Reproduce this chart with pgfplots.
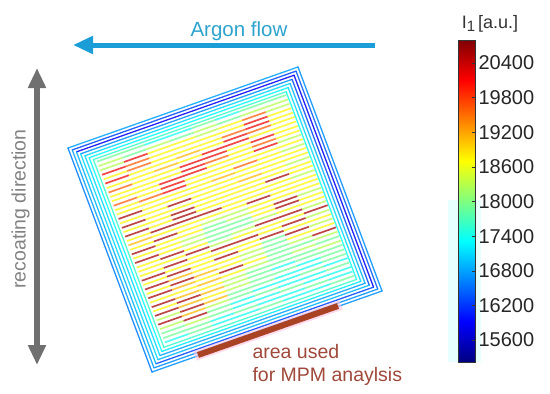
\documentclass[border=0pt]{standalone}
\usepackage{pgfplots}
\pgfplotsset{compat=1.18}
\usepackage{fontspec}
\setmainfont{Liberation Sans}
\usetikzlibrary{arrows.meta}
\definecolor{argon}{RGB}{27,157,216}
\definecolor{argontext}{RGB}{45,163,205}
\definecolor{recoat}{RGB}{112,112,112}
\definecolor{recoattext}{RGB}{130,130,130}
\definecolor{mpm}{RGB}{170,66,36}
\definecolor{mpmtext}{RGB}{160,72,58}
\definecolor{halo}{RGB}{255,195,225}
\definecolor{cyanhaze}{RGB}{232,255,255}

% one scan line: #1 = v position, #2..#9 = intensity of its 8 segments
\newcommand\scanline[9]{\addplot[mesh, shader=flat corner, point meta=explicit, line width=1.7pt, opacity=0.72] table[x expr={68+230*\thisrow{u}+84*#1}, y expr={148-81*\thisrow{u}+224*#1}, meta=c, row sep=\\] {u c\\0.092 #2\\0.195 #3\\0.298 #4\\0.401 #5\\0.504 #6\\0.606 #7\\0.709 #8\\0.812 #9\\0.915 #9\\};}
% one contour: #1 = offset, #2 = 1-offset, #3..#6 = top, right, bottom, left
\newcommand\contour[6]{\addplot[mesh, shader=flat corner, point meta=explicit, line width=1.3pt, line cap=round, opacity=0.85] table[x expr={68+230*\thisrow{u}+84*\thisrow{v}}, y expr={148-81*\thisrow{u}+224*\thisrow{v}}, meta=c, row sep=\\] {u v c\\#1 #1 #3\\#2 #1 #4\\#2 #2 #5\\#1 #2 #6\\#1 #1 #6\\};}

\begin{document}
\begin{tikzpicture}
\begin{axis}[name=main, at={(0,0)}, anchor=south west, scale only axis,
  width=550pt, height=394pt, xmin=0, xmax=550, ymin=0, ymax=394,
  y dir=reverse, hide axis, clip=false, colormap/jet,
  point meta min=15220, point meta max=20800]

\addplot[fill=cyanhaze, draw=none] coordinates {(448,200) (481,200) (481,362) (448,362)} --cycle;

\contour{0}{1}{16800}{16700}{16700}{16600}
\contour{0.0135}{0.9865}{16300}{16400}{16700}{16800}
\contour{0.027}{0.973}{15900}{15900}{16300}{16900}
\contour{0.0405}{0.9595}{16700}{16300}{16900}{17100}
\contour{0.054}{0.946}{17100}{16900}{16800}{17100}
\contour{0.0675}{0.9325}{17300}{17100}{17200}{17300}
\contour{0.081}{0.919}{17600}{17400}{17600}{17600}

\scanline{0.094}{17900}{17900}{17400}{17400}{17900}{17400}{17900}{17900}
\scanline{0.114}{18300}{17900}{18300}{17900}{18300}{17900}{18300}{18300}
\scanline{0.133}{18300}{20200}{18750}{18750}{18300}{18750}{19600}{18300}
\scanline{0.153}{20200}{19600}{18750}{18750}{18750}{18750}{20200}{18750}
\scanline{0.173}{18750}{19600}{18750}{18750}{18750}{19600}{20200}{18750}
\scanline{0.192}{20200}{18750}{18750}{19100}{18750}{20200}{19600}{18750}
\scanline{0.212}{18750}{18750}{19100}{18750}{20200}{20200}{18750}{18750}
\scanline{0.232}{19600}{18750}{18750}{20200}{20200}{18750}{20200}{18750}
\scanline{0.252}{18750}{18750}{18750}{20200}{19600}{18750}{19600}{18750}
\scanline{0.271}{18750}{18750}{20200}{20200}{18750}{18750}{20200}{18300}
\scanline{0.291}{19600}{18750}{20200}{18750}{18750}{18750}{18750}{18750}
\scanline{0.311}{18750}{19600}{20200}{18750}{18750}{19600}{18750}{18300}
\scanline{0.330}{18750}{18750}{18750}{18750}{19100}{18750}{18750}{18750}
\scanline{0.350}{20600}{18750}{18750}{18750}{18750}{18750}{18750}{18750}
\scanline{0.370}{18750}{18750}{20600}{18750}{18750}{19100}{18750}{18300}
\scanline{0.390}{20600}{18750}{18750}{18750}{18750}{18750}{18750}{18750}
\scanline{0.409}{18750}{18750}{20600}{18750}{18750}{18750}{20600}{18750}
\scanline{0.429}{20600}{18750}{20600}{18750}{18750}{18750}{18750}{18300}
\scanline{0.449}{18750}{20600}{20600}{20600}{18750}{18750}{18750}{18750}
\scanline{0.468}{19100}{18750}{18750}{18750}{18750}{20600}{18750}{18750}
\scanline{0.488}{18750}{20600}{18750}{18300}{18300}{18750}{18750}{18750}
\scanline{0.508}{20600}{18750}{18750}{17900}{18300}{18750}{20600}{18300}
\scanline{0.527}{18750}{18750}{18300}{17900}{17900}{18750}{20600}{18750}
\scanline{0.547}{20600}{18750}{18300}{17900}{17900}{18300}{18750}{18750}
\scanline{0.567}{18750}{20600}{18750}{17900}{18300}{20600}{20600}{18300}
\scanline{0.586}{18750}{18750}{20600}{18300}{18750}{18750}{18750}{20600}
\scanline{0.606}{18750}{20600}{18750}{20600}{20600}{18750}{20600}{18300}
\scanline{0.626}{20600}{18750}{18750}{18750}{18750}{20600}{18750}{18750}
\scanline{0.645}{18750}{20600}{18750}{20600}{18750}{17900}{20600}{18300}
\scanline{0.665}{20600}{19100}{18750}{18750}{18300}{17900}{18750}{18750}
\scanline{0.685}{18750}{20600}{19100}{18750}{18300}{17900}{18300}{20600}
\scanline{0.704}{20600}{19100}{18750}{20600}{18750}{17900}{17900}{18300}
\scanline{0.724}{18750}{18750}{19100}{18750}{18300}{17900}{18300}{17900}
\scanline{0.744}{20600}{19100}{18750}{18300}{17900}{17900}{17900}{18300}
\scanline{0.763}{18750}{20600}{19100}{18300}{17900}{17400}{17900}{17900}
\scanline{0.783}{20600}{19100}{18750}{18300}{17900}{17900}{17400}{17900}
\scanline{0.803}{18300}{20600}{19100}{17900}{17900}{17400}{17400}{17900}
\scanline{0.822}{20600}{19100}{18300}{17900}{17400}{17400}{17900}{17400}
\scanline{0.842}{18300}{20600}{17900}{17400}{17900}{17400}{17400}{17900}
\scanline{0.862}{17900}{18300}{17900}{17400}{17400}{17900}{17400}{17400}
\scanline{0.882}{17900}{17900}{17400}{17900}{17400}{17400}{17900}{17400}
\scanline{0.901}{17400}{17900}{17400}{17400}{17900}{17400}{17400}{17900}

% area used for MPM analysis
\addplot[draw=halo, line width=10pt, opacity=0.6] coordinates {(195,356) (341,305)};
\addplot[draw=mpm, line width=6pt] coordinates {(198,355) (338,306)};

% arrows
\addplot[draw=argon, line width=5pt, -{Triangle[length=20pt,width=17pt]}] coordinates {(375,45) (73,45)};
\addplot[draw=recoat, line width=6pt, {Triangle[length=20pt,width=17pt]}-{Triangle[length=20pt,width=17pt]}] coordinates {(37,68) (37,365)};

\node[anchor=base, text=argontext, font=\fontsize{20.5}{24}\selectfont] at (axis cs:239,36.5) {Argon flow};
\node[anchor=base, rotate=90, text=recoattext, font=\fontsize{19.5}{24}\selectfont] at (axis cs:25.5,209) {recoating direction};
\node[anchor=base west, text=mpmtext, font=\fontsize{19.5}{24}\selectfont] at (axis cs:249,358) {area used};
\node[anchor=base west, text=mpmtext, font=\fontsize{19.5}{24}\selectfont] at (axis cs:249,381) {for MPM anaylsis};
\node[anchor=base, text=black!80, font=\fontsize{18}{20}\selectfont] at (axis cs:490,28) {I\raisebox{-0.4ex}{\fontsize{15}{15}\selectfont 1}\,[a.u.]};
\end{axis}

\begin{axis}[at={(458pt,32pt)}, anchor=south west, scale only axis,
  width=17pt, height=322pt, xmin=0, xmax=1, ymin=15220, ymax=20800,
  xtick=\empty, ytick={15600,16200,16800,17400,18000,18600,19200,19800,20400},
  ytick pos=right, yticklabel pos=right, tick align=inside,
  major tick length=3pt, axis on top,
  tick style={draw=black!80, line width=0.6pt},
  axis line style={draw=black!80, line width=0.6pt},
  scaled y ticks=false,
  /pgf/number format/assume math mode=true,
  /pgf/number format/1000 sep={},
  yticklabel style={font=\fontsize{20}{20}\selectfont, text=black!85},
  colormap/jet, point meta min=15220, point meta max=20800]
\addplot[surf, shader=interp, point meta=y] coordinates {
(0,15220) (1,15220)

(0,20800) (1,20800)
};
\end{axis}
\pgfresetboundingbox
\useasboundingbox (main.south west) rectangle (main.north east);
\end{tikzpicture}
\end{document}
